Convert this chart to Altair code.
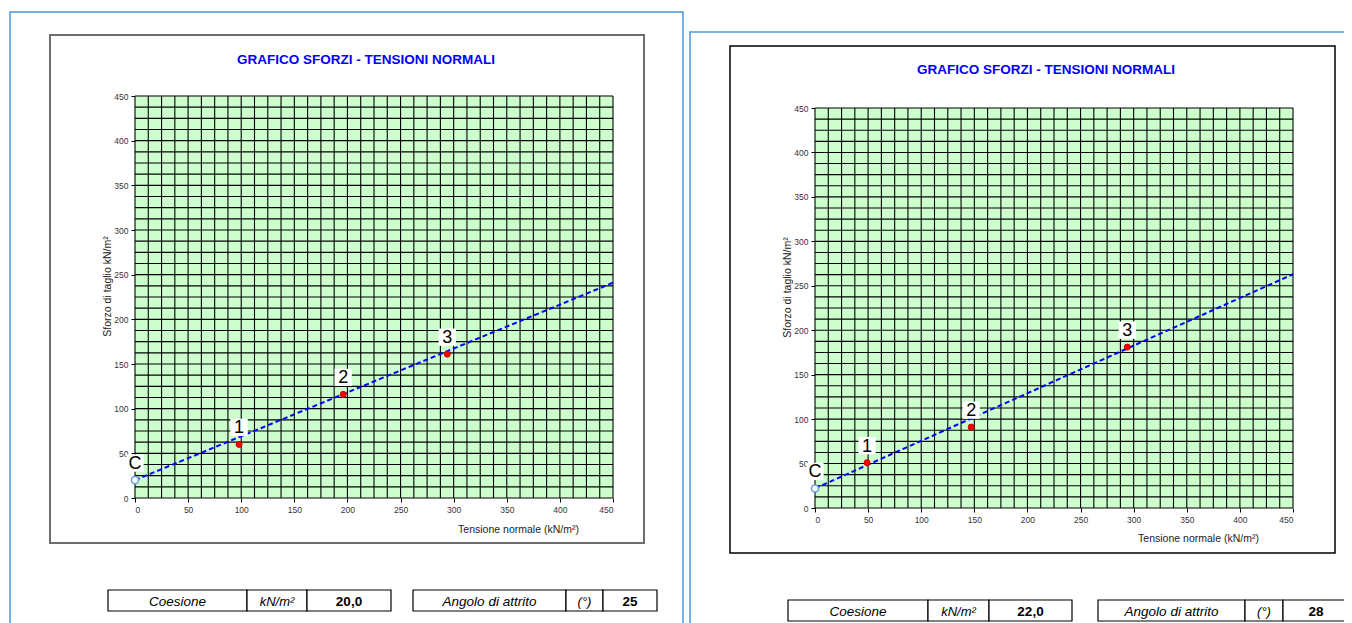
import altair as alt
import pandas as pd

W, H = 1336, 615
FONT = "Liberation Sans"

title_text = "GRAFICO SFORZI - TENSIONI NORMALI"
x_title = "Tensione normale (kN/m²)"
y_title = "Sforzo di taglio  kN/m²"
axis_ticks = [0, 50, 100, 150, 200, 250, 300, 350, 400, 450]
grid_vals = [i * 12.5 for i in range(37)]

point_labels = ["C", "1", "2", "3"]
point_kind = ["coesione", "prova", "prova", "prova"]

left_sigma = [0, 98, 196, 294]
left_tau = [20, 60, 116, 161]
left_line_sigma = [0, 450]
left_line_tau = [20, 241]

right_sigma = [0, 49, 147, 294]
right_tau = [22, 51, 91, 181]
right_line_sigma = [0, 450]
right_line_tau = [22, 263]

table_labels = ["Coesione", "kN/m²", "Angolo di attrito", "(°)"]
cohesion = ["20,0", "22,0"]
friction_angle = ["25", "28"]

one = pd.DataFrame({"k": [0]})


def box(x1, x2, y1, y2, stroke, sw, fill=None):
    kw = dict(stroke=stroke, strokeWidth=sw)
    if fill is None:
        kw["fillOpacity"] = 0
        kw["fill"] = "white"
    else:
        kw["fill"] = fill
    return alt.Chart(one).mark_rect(**kw).encode(
        x=alt.value(x1), x2=alt.value(x2), y=alt.value(y1), y2=alt.value(y2)
    )


def label(x, y, text, size=12, style="normal", weight="normal", color="black"):
    return alt.Chart(one).mark_text(
        font=FONT, fontSize=size, fontStyle=style, fontWeight=weight, color=color,
        align="center", baseline="middle"
    ).encode(x=alt.value(x), y=alt.value(y), text=alt.value(text))


def table(xs, y1, y2, texts, styles, weights, sizes):
    layers = []
    for i in range(len(texts)):
        layers.append(box(xs[i], xs[i + 1], y1, y2, "black", 1.2, fill="white"))
        layers.append(label((xs[i] + xs[i + 1]) / 2, (y1 + y2) / 2 + 1, texts[i],
                            size=sizes[i], style=styles[i], weight=weights[i]))
    return layers


def panel(p, sigma, tau, line_sigma, line_tau):
    xs = alt.Scale(domain=[0, 450], range=[p["x0"], p["x1"]], nice=False, zero=False)
    ys = alt.Scale(domain=[0, 450], range=[p["y1"], p["y0"]], nice=False, zero=False)
    ax_x = alt.Axis(
        orient="bottom", offset=p["y1"] - H, values=axis_ticks, grid=False,
        domain=False, tickSize=4, tickColor="black", labelFontSize=8.5,
        labelColor="#333333", labelFont=FONT, labelPadding=3,
        title=x_title, titleFont=FONT, titleFontSize=10.5, titleFontWeight="normal",
        titleColor="#222222", titleX=p["xtx"], titleY=p["xty"],
        titleAlign="center", titleBaseline="middle")
    ax_y = alt.Axis(
        orient="left", offset=-p["x0"], values=axis_ticks, grid=False,
        domain=False, tickSize=4, tickColor="black", labelFontSize=8.5,
        labelColor="#333333", labelFont=FONT, labelPadding=3,
        title=y_title, titleFont=FONT, titleFontSize=10.5, titleFontWeight="normal",
        titleColor="#222222", titleX=p["ytx"], titleY=p["yty"],
        titleAlign="center", titleBaseline="middle", titleAngle=270)

    def X(**kw):
        return alt.X(scale=xs, axis=ax_x, **kw)

    def Y(**kw):
        return alt.Y(scale=ys, axis=ax_y, **kw)

    bg = alt.Chart(one).mark_rect(color="#CCFFCC").encode(
        x=X(datum=0), x2=alt.X2(datum=450), y=Y(datum=0), y2=alt.Y2(datum=450),
    )
    grid_df = pd.DataFrame({"g": grid_vals})
    vgrid = alt.Chart(grid_df).mark_rule(color="black", strokeWidth=1.1).encode(
        x=X(field="g", type="quantitative"), y=Y(datum=0), y2=alt.Y2(datum=450),
    )
    hgrid = alt.Chart(grid_df).mark_rule(color="black", strokeWidth=1.1).encode(
        y=Y(field="g", type="quantitative"), x=X(datum=0), x2=alt.X2(datum=450),
    )
    line_df = pd.DataFrame({"s": line_sigma, "t": line_tau})
    line = alt.Chart(line_df).mark_line(
        color="#0000FF", strokeDash=[5, 3], strokeWidth=2
    ).encode(x=X(field="s", type="quantitative"), y=Y(field="t", type="quantitative"))
    pts_df = pd.DataFrame({"s": sigma, "t": tau, "lab": point_labels, "kind": point_kind})
    enc = dict(x=X(field="s", type="quantitative"), y=Y(field="t", type="quantitative"))
    tests = alt.Chart(pts_df).transform_filter(alt.datum.kind == "prova").mark_point(
        shape="circle", filled=True, fill="#FF0000", stroke="#CC0000",
        strokeWidth=1, size=36, opacity=1,
    ).encode(**enc)
    coes = alt.Chart(pts_df).transform_filter(alt.datum.kind == "coesione").mark_point(
        shape="circle", filled=True, fill="white", stroke="#6A9AE0",
        strokeWidth=1.5, size=50, opacity=1,
    ).encode(**enc)
    lbox = alt.Chart(pts_df).mark_square(color="white", size=300, opacity=1).encode(
        yOffset=alt.value(-17), **enc
    )
    ltext = alt.Chart(pts_df).mark_text(
        font=FONT, fontSize=18, color="black", dy=-16, baseline="middle"
    ).encode(text="lab:N", **enc)
    return alt.layer(bg, vgrid, hgrid, line, tests, coes, lbox, ltext)


left_p = dict(x0=127, x1=605, y0=88, y1=490, xtx=510, xty=31, ytx=-28, yty=278)
right_p = dict(x0=807, x1=1285, y0=100, y1=500, xtx=1190, xty=30, ytx=-28, yty=279)

deco = [
    box(2, 675, 4, 900, "#4C96DA", 1.5),
    box(682, 1400, 24, 900, "#4C96DA", 1.5),
    box(42, 636, 27, 535, "#6E6E6E", 2),
    box(722, 1327, 38, 545, "black", 1.5),
    label(358, 52, title_text, size=13.5, weight="bold", color="#0000FF"),
    label(1038, 62, title_text, size=13.5, weight="bold", color="#0000FF"),
]
st = ["italic", "italic", "normal"]
wt = ["normal", "normal", "bold"]
sz = [13.5, 13, 13.5]
deco += table([100, 239, 299, 383], 582, 603,
              [table_labels[0], table_labels[1], cohesion[0]], st, wt, sz)
deco += table([405, 558, 595, 649], 582, 603,
              [table_labels[2], table_labels[3], friction_angle[0]], st, wt, sz)
deco += table([780, 920, 981, 1064], 592, 613,
              [table_labels[0], table_labels[1], cohesion[1]], st, wt, sz)
deco += table([1090, 1237, 1275, 1341], 592, 613,
              [table_labels[2], table_labels[3], friction_angle[1]], st, wt, sz)

left = panel(left_p, left_sigma, left_tau, left_line_sigma, left_line_tau)
right = panel(right_p, right_sigma, right_tau, right_line_sigma, right_line_tau)

chart = alt.layer(
    alt.layer(*deco), left, right
).resolve_scale(x="independent", y="independent").resolve_axis(
    x="independent", y="independent"
).properties(
    width=W, height=H, autosize="none", padding=0, background="white"
).configure_view(stroke=None)

chart.save("out.html", embed_options={"renderer": "svg", "actions": False})
